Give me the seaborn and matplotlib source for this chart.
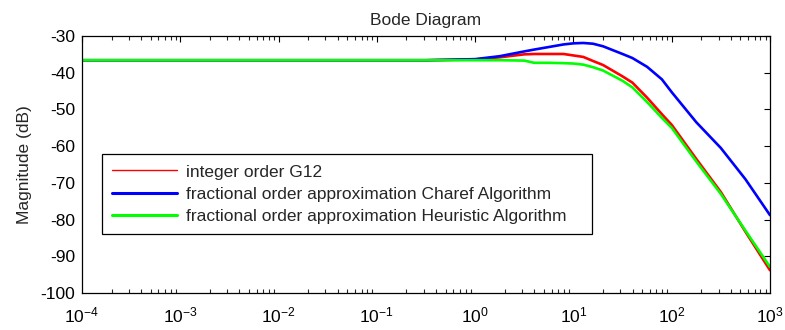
import matplotlib
matplotlib.use("Agg")
import matplotlib.pyplot as plt
import seaborn as sns
import pandas as pd
from matplotlib.ticker import LogLocator, FixedLocator

# ---- data ----
freq = [1e-4, 1e-3, 1e-2, 1e-1, 0.316, 1.0, 1.78, 3.16, 3.98, 5.62, 7.94, 10.0,
        12.6, 15.8, 20.0, 31.6, 39.8, 56.2, 79.4, 100.0, 178.0, 316.0, 562.0, 1000.0]
mag_integer = [-36.6, -36.6, -36.6, -36.6, -36.6, -36.4, -35.8, -35.0, -34.9, -34.9, -34.9, -35.3,
               -35.7, -36.8, -37.9, -41.0, -42.7, -46.8, -51.3, -54.2, -63.5, -72.5, -83.3, -93.8]
mag_charef = [-36.6, -36.6, -36.6, -36.6, -36.6, -36.3, -35.5, -34.2, -33.7, -33.0, -32.3, -32.0,
              -31.9, -32.1, -32.8, -34.9, -36.0, -38.4, -41.8, -45.3, -53.5, -60.5, -69.0, -78.8]
mag_heuristic = [-36.6, -36.6, -36.6, -36.6, -36.6, -36.6, -36.6, -36.7, -37.3, -37.3, -37.4, -37.5,
                 -37.8, -38.5, -39.4, -42.2, -44.0, -48.0, -52.3, -55.0, -64.2, -73.0, -83.0, -92.9]

labels = ["integer order G12",
          "fractional order approximation Charef Algorithm",
          "fractional order approximation Heuristic Algorithm"]
colors = ["#ff0000", "#0000ff", "#00ff00"]
x_ticks = [1e-4, 1e-3, 1e-2, 1e-1, 1e0, 1e1, 1e2, 1e3]
y_ticks = [-100, -90, -80, -70, -60, -50, -40, -30]

df = pd.concat([
    pd.DataFrame({"freq": freq, "mag": mag_integer, "series": labels[0]}),
    pd.DataFrame({"freq": freq, "mag": mag_charef, "series": labels[1]}),
    pd.DataFrame({"freq": freq, "mag": mag_heuristic, "series": labels[2]}),
], ignore_index=True)

sns.set_style("white")
plt.rcParams["font.family"] = ["Liberation Sans", "DejaVu Sans"]
plt.rcParams["axes.unicode_minus"] = False
plt.rcParams["mathtext.default"] = "regular"
FS = 12.5

fig = plt.figure(figsize=(7.85, 3.3), dpi=100)
ax = fig.add_axes([82 / 785, 1 - 293 / 330, 688 / 785, 257 / 330])

sns.lineplot(data=df, x="freq", y="mag", hue="series", hue_order=labels,
             palette=dict(zip(labels, colors)), linewidth=1.9, sort=False,
             estimator=None, ax=ax)

ax.set_xscale("log")
ax.set_xlim(1e-4, 1e3)
ax.set_ylim(-100, -30)
ax.set_yticks(y_ticks)
ax.xaxis.set_major_locator(FixedLocator(x_ticks))
ax.xaxis.set_minor_locator(LogLocator(base=10, subs=range(2, 10), numticks=100))

ax.tick_params(axis="both", which="major", direction="in", length=4, width=0.8,
               colors="black", labelsize=FS, top=True, right=True, pad=5)
ax.tick_params(axis="x", which="major", pad=9)
ax.tick_params(axis="x", which="minor", direction="in", length=3, width=0.8,
               top=True, bottom=True)
for s in ax.spines.values():
    s.set_visible(True)
    s.set_color("black")
    s.set_linewidth(0.9)

ax.set_xlabel("")
ax.set_ylabel("Magnitude (dB)", fontsize=FS, labelpad=6)
ax.set_title("Bode Diagram", fontsize=FS, pad=8)

leg = ax.legend(loc="upper left", bbox_to_anchor=(0.029, 0.0, 0.712, 0.541),
                mode="expand", fontsize=FS, frameon=True, fancybox=False,
                edgecolor="black", handlelength=3.7, handletextpad=0.55,
                labelspacing=0.4, borderpad=0.6, borderaxespad=0)
leg.get_frame().set_linewidth(0.9)
leg.get_frame().set_alpha(1)
lines = leg.get_lines()
lines[0].set_linewidth(1.0)
lines[1].set_linewidth(2.2)
lines[2].set_linewidth(2.2)

fig.savefig("out.png", dpi=100)
